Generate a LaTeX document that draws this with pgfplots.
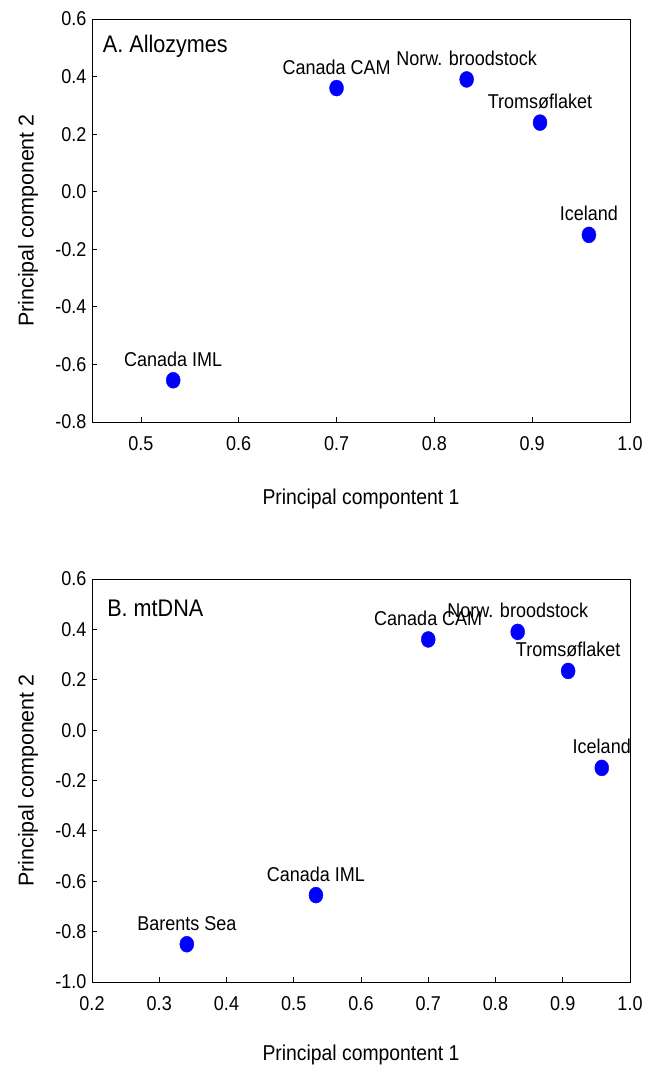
\documentclass[border=0pt]{standalone}
\usepackage{pgfplots}
\pgfplotsset{compat=1.18}
\usepackage{fontspec}
\setmainfont{Liberation Sans}[FakeStretch=0.9]
\newfontfamily\upfont{Liberation Sans}

% population coordinates, panel A (allozymes)
\pgfplotstableread[col sep=comma]{
x,y,label
0.700,0.360,Canada CAM
0.833,0.390,Norw. broodstock
0.908,0.240,Tromsøflaket
0.958,-0.150,Iceland
0.533,-0.655,Canada IML
}\allozymes

% panel B (mtDNA)
\pgfplotstableread[col sep=comma]{
x,y,label
0.700,0.360,Canada CAM
0.833,0.390,Norw. broodstock
0.908,0.235,Tromsøflaket
0.958,-0.150,Iceland
0.533,-0.655,Canada IML
0.341,-0.850,Barents Sea
}\mtdna

\pgfplotsset{pca/.style={
    scale only axis, width=538bp, height=403bp,
    clip=false,
    axis line style={line width=0.8bp},
    tick align=inside, tick pos=left, major tick length=5bp,
    every tick/.style={black, line width=0.8bp},
    ticklabel style={font=\fontsize{20bp}{24bp}\selectfont},
    xticklabel style={yshift=-11bp, /pgf/number format/.cd, fixed, fixed zerofill, precision=1, assume math mode=true},
    yticklabel style={xshift=-2bp, /pgf/number format/.cd, fixed, fixed zerofill, precision=1, assume math mode=true},
    xlabel={Principal compontent 1},
    ylabel={Principal component 2},
    label style={font=\fontsize{21.5bp}{25bp}\selectfont},
    ylabel style={font=\upfont\fontsize{21.5bp}{25bp}\selectfont, at={(axis description cs:-0.119,0.5)}, anchor=center},
    nodes near coords,
    nodes near coords style={font=\fontsize{20bp}{24bp}\selectfont, anchor=base, yshift=14bp, inner sep=0pt, text=black},
  },
  dots/.style={only marks, mark=*, mark size=8bp, color=blue,
    mark options={xscale=0.875, draw=blue, fill=blue}, point meta=explicit symbolic},
}

\begin{document}
\begin{tikzpicture}
\begin{axis}[pca, at={(92bp,647bp)}, anchor=south west,
    xmin=0.45, xmax=1.0, ymin=-0.8, ymax=0.6,
    xtick={0.5,0.6,0.7,0.8,0.9,1.0},
    ytick={-0.8,-0.6,-0.4,-0.2,0,0.2,0.4,0.6},
    xlabel style={at={(axis description cs:0.5,-0.191)}, anchor=center},
]
\addplot[dots] table[x=x, y=y, meta=label] {\allozymes};
\node[anchor=base west, inner sep=0pt, font=\fontsize{24bp}{28bp}\selectfont]
  at (axis description cs:0.02,0.918) {A. Allozymes};
\end{axis}

\begin{axis}[pca, at={(92bp,87bp)}, anchor=south west,
    xmin=0.2, xmax=1.0, ymin=-1.0, ymax=0.6,
    xtick={0.2,0.3,0.4,0.5,0.6,0.7,0.8,0.9,1.0},
    ytick={-1.0,-0.8,-0.6,-0.4,-0.2,0,0.2,0.4,0.6},
    xlabel style={at={(axis description cs:0.5,-0.181)}, anchor=center},
]
\addplot[dots] table[x=x, y=y, meta=label] {\mtdna};
\node[anchor=base west, inner sep=0pt, font=\fontsize{24bp}{28bp}\selectfont]
  at (axis description cs:0.028,0.906) {B. mtDNA};
\end{axis}
\pgfresetboundingbox
\path (0,0) rectangle (660bp,1069bp);
\end{tikzpicture}
\end{document}
